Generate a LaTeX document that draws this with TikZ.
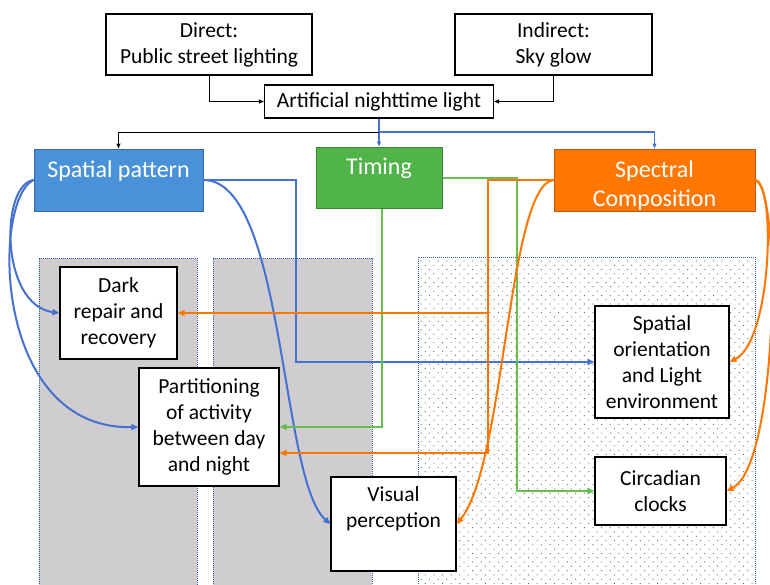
\documentclass[tikz,border=0pt]{standalone}
\usepackage{fontspec}
\setmainfont{Carlito}
\usetikzlibrary{arrows.meta,calc}

\definecolor{spatfill}{RGB}{73,145,216}
\definecolor{spatdraw}{RGB}{52,105,165}
\definecolor{timefill}{RGB}{80,180,72}
\definecolor{timedraw}{RGB}{58,130,52}
\definecolor{specfill}{RGB}{255,119,0}
\definecolor{specdraw}{RGB}{190,88,20}
\definecolor{bline}{RGB}{68,114,206}
\definecolor{gline}{RGB}{100,190,80}
\definecolor{oline}{RGB}{255,119,0}
\definecolor{panelgray}{RGB}{207,205,208}
\definecolor{panelblue}{RGB}{60,90,170}
\definecolor{dotgray}{RGB}{95,95,95}

\begin{document}
\begin{tikzpicture}[x=1pt,y=-1pt,
  box/.style={draw=black, line width=1.2pt, fill=white, inner sep=0pt, align=center,
    font=\fontsize{21.5}{26}\selectfont},
  colbox/.style={line width=1pt, inner sep=0pt},
  coltext/.style={text=white, align=center, inner sep=0pt, font=\fontsize{24}{29}\selectfont},
  boxtext/.style={align=center, inner sep=0pt, font=\fontsize{21.5}{26}\selectfont},
  panel/.style={draw=panelblue, line width=0.8pt, dash pattern=on 1pt off 1pt},
  wire/.style={line width=2pt, -{Triangle[length=7pt,width=6pt]}},
  blkwire/.style={draw=black, line width=1pt, -{Triangle[length=5pt,width=4pt]}},
  feedwire/.style={draw=bline, line width=1.2pt, -{Triangle[length=5pt,width=4pt]}}]

\useasboundingbox (0,0) rectangle (770,584);
\fill[white] (0,0) rectangle (770,584);

% background panels
\fill[panelgray] (39,258) rectangle (197,592);
\draw[panel] (39,592) -- (39,258) -- (197,258) -- (197,592);
\fill[panelgray] (213,258) rectangle (372,592);
\draw[panel] (213,592) -- (213,258) -- (372,258) -- (372,592);
\foreach \r in {0,...,75}{
  \foreach \c in {0,...,38}{
    \fill[dotgray] ({421+8.6*\c+4.3*mod(\r,2)},{261+4.3*\r}) circle (0.6pt);
  }
}
\draw[panel] (418,592) -- (418,257) -- (755,257) -- (755,592);

% source boxes
\node[box, minimum width=206pt, minimum height=61pt] (direct) at (209,44.5) {Direct:\\Public street lighting};
\node[box, minimum width=197pt, minimum height=61pt] (indirect) at (553.5,44.5) {Indirect:\\Sky glow};
\node[box, minimum width=229pt, minimum height=33pt] (anl) at (379,101.5) {Artificial nighttime light};

% three aspects of light
\node[colbox, fill=spatfill, draw=spatdraw, minimum width=169pt, minimum height=62pt] (spat) at (118.5,180) {};
\node[coltext] (spatT) at (118.5,171) {Spatial pattern};
\node[colbox, fill=timefill, draw=timedraw, minimum width=126pt, minimum height=61pt] (timing) at (379,177.5) {};
\node[coltext] (timingT) at (379,168) {Timing};
\node[colbox, fill=specfill, draw=specdraw, minimum width=201pt, minimum height=62pt] (spec) at (654.5,180) {};
\node[coltext] (specT) at (654.5,186) {Spectral\\Composition};

% responses
\coordinate (jn) at (379,132);
\draw[blkwire] (direct.south) |- (anl.west);
\draw[blkwire] (indirect.south) |- (anl.east);
\draw[feedwire] (anl.south) -- (timing.north);
\draw[feedwire] (jn) -| (spec.north);
\draw[blkwire] (jn) -| (spat.north);

\node[box, minimum width=117pt, minimum height=92pt] (dark) at (118.5,313) {Dark\\repair and\\recovery};
\node[box, minimum width=140pt, minimum height=118pt] (part) at (209,427) {Partitioning\\of activity\\between day\\and night};
\node[box, minimum width=125pt, minimum height=94pt] (vis) at (393.5,524) {};
\node[boxtext] (visT) at (393.5,509) {Visual\\perception};
\node[box, minimum width=134pt, minimum height=112pt] (orient) at (662,362) {Spatial\\orientation\\and Light\\environment};
\node[box, minimum width=131pt, minimum height=68pt] (circ) at (660.5,491) {Circadian\\clocks};

% spatial pattern effects
\coordinate (sb) at (296,180);
\draw[wire, bline] (spat.east) -- (sb) |- (orient.west);
\draw[wire, bline] (spat.east) .. controls (285,180) and (280,480) .. (vis.west);
\draw[wire, bline] (spat.west) .. controls (0,185) and (0,305) .. (dark.west);
\draw[wire, bline] (spat.west) .. controls (-8,200) and (-8,430) .. (part.west);

% timing effects
\coordinate (gb) at (517,177.5);
\draw[wire, gline] ([xshift=3pt]timing.south) |- (part.east);
\draw[wire, gline] (timing.east) -- (gb) |- (circ.west);

% spectral effects
\coordinate (ob) at (488,180);
\draw[wire, oline] (spec.west) -- (ob) |- (dark.east);
\draw[wire, oline] (spec.west) -- (ob) |- ([yshift=-26pt]part.east);
\draw[wire, oline] (spec.west) .. controls (508,185) and (505,465) .. (vis.east);
\draw[wire, oline] (spec.east) .. controls (776,185) and (772,340) .. (orient.east);
\draw[wire, oline] (spec.east) .. controls (782,190) and (778,465) .. (circ.east);
\end{tikzpicture}
\end{document}
